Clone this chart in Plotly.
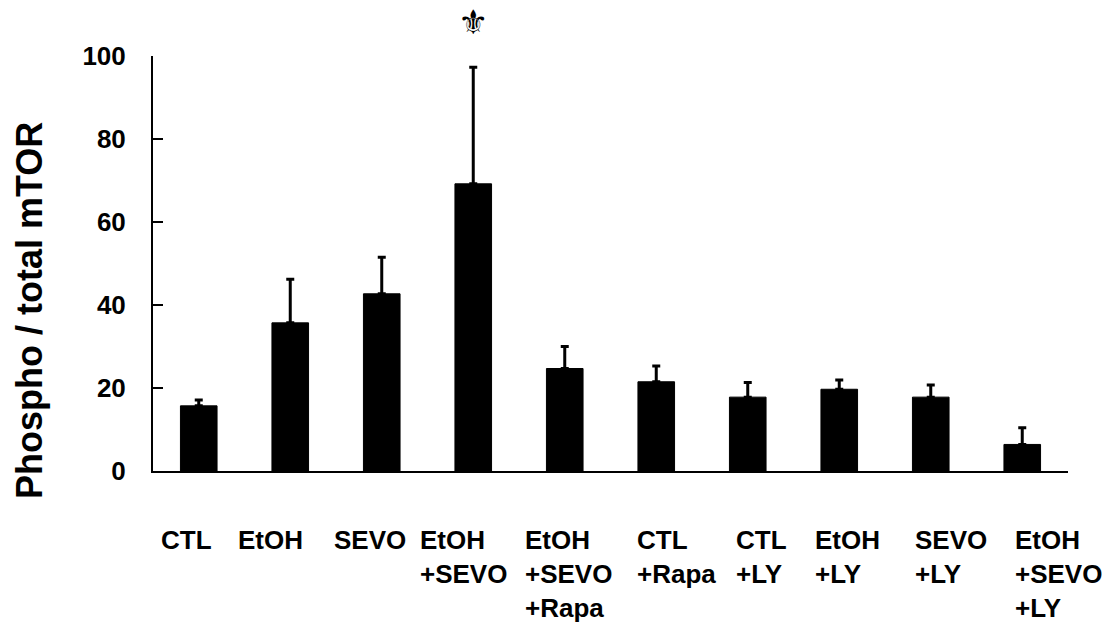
import plotly.graph_objects as go

categories = ["CTL", "EtOH", "SEVO", "EtOH<br>+SEVO", "EtOH<br>+SEVO<br>+Rapa",
              "CTL<br>+Rapa", "CTL<br>+LY", "EtOH<br>+LY", "SEVO<br>+LY",
              "EtOH<br>+SEVO<br>+LY"]
means = [15.7, 35.7, 42.7, 69.2, 24.7, 21.5, 17.8, 19.7, 17.8, 6.4]
errors = [1.4, 10.5, 8.8, 28.1, 5.3, 3.8, 3.5, 2.2, 2.9, 4.0]
y_ticks = [0, 20, 40, 60, 80, 100]
y_title = "Phospho / total mTOR"
sig_category = "EtOH<br>+SEVO"
sig_mark = "\u269c\ufe0e"

# label left offsets (px) relative to category centre
label_xshift = [-40, -54, -50, -55, -42, -21, -14, -26, -18, -9]

FONT = "Liberation Sans, Arial, sans-serif"

fig = go.Figure()
fig.add_trace(go.Bar(
    x=categories, y=means, width=0.4,
    marker=dict(color="black", line=dict(color="black", width=1)),
    error_y=dict(type="data", symmetric=False, array=errors,
                 arrayminus=[0] * len(errors), color="black",
                 thickness=3, width=4),
    showlegend=False,
))

annotations = []
for cat, dx in zip(categories, label_xshift):
    annotations.append(dict(
        x=cat, xref="x", y=0, yref="paper", xanchor="left", yanchor="top",
        align="left", xshift=dx, yshift=-52, text=cat, showarrow=False,
        font=dict(family=FONT, size=26, color="black", weight="bold"),
    ))
annotations.append(dict(
    x=-0.5, xref="x", y=(463 - 303) / 415, yref="paper", xanchor="center",
    yanchor="middle", xshift=-124, text=y_title, textangle=-90,
    showarrow=False, font=dict(family=FONT, size=36, color="black", weight="bold"),
))
annotations.append(dict(
    x=sig_category, xref="x", y=1, yref="paper", xanchor="center",
    yanchor="middle", yshift=34, text=sig_mark, showarrow=False,
    font=dict(family="DejaVu Sans", size=34, color="black"),
))

fig.update_layout(
    width=1116, height=623,
    margin=dict(l=145, r=56, t=48, b=160),
    paper_bgcolor="white", plot_bgcolor="white",
    annotations=annotations,
    xaxis=dict(showticklabels=False, ticks="", showline=True, linecolor="black",
               linewidth=2, showgrid=False, zeroline=False,
               range=[-0.5, 9.5]),
    yaxis=dict(range=[0, 100], tickvals=y_ticks, ticks="inside", ticklen=10,
               tickwidth=2, tickcolor="black", showline=True, linecolor="black",
               linewidth=2, showgrid=False, zeroline=False,
               ticklabelstandoff=20,
               tickfont=dict(family=FONT, size=26, color="black", weight="bold")),
)

fig.write_html("out.html")
